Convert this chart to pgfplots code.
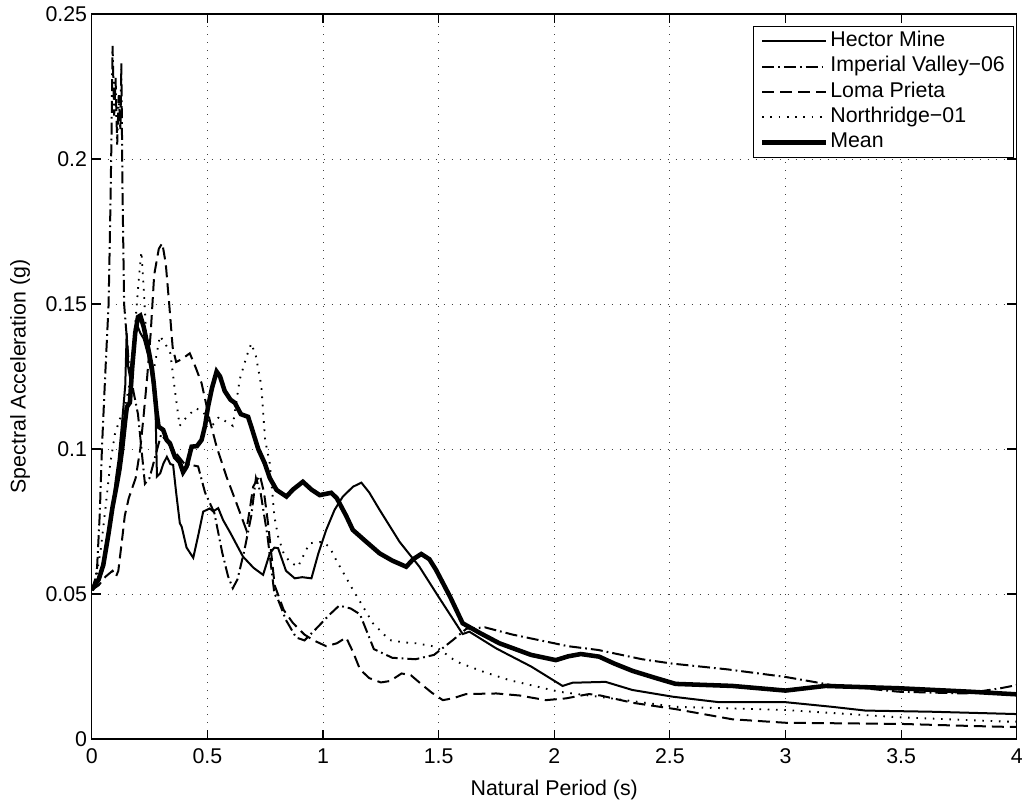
\documentclass[border=0pt]{standalone}
\usepackage{fontspec}
\setmainfont{Liberation Sans}
\usepackage{pgfplots}
\pgfplotsset{compat=1.18}
\begin{document}
\begin{tikzpicture}
\path[use as bounding box] (-68.8pt,-45pt) rectangle (701.45pt,554.25pt);
\begin{axis}[
  scale only axis,
  width=693.75pt, height=543.75pt,
  at={(0pt,0pt)}, anchor=south west,
  xmin=0, xmax=4, ymin=0, ymax=0.25,
  enlargelimits=false,
  xtick={0,0.5,1,1.5,2,2.5,3,3.5,4},
  xticklabels={0,0.5,1,1.5,2,2.5,3,3.5,4},
  ytick={0,0.05,0.1,0.15,0.2,0.25},
  yticklabels={0,0.05,0.1,0.15,0.2,0.25},
  xtick pos=both, ytick pos=both,
  tick align=inside,
  major tick length=7pt,
  tick style={black, line width=0.8pt},
  axis line style={black, line width=1pt},
  grid=major,
  major grid style={black!75, line width=0.7pt, dash pattern=on 0.8pt off 5.2pt},
  tick label style={font=\fontsize{16}{19}\selectfont},
  xticklabel style={yshift=-3.5pt},
  label style={font=\fontsize{16}{19}\selectfont},
  xlabel={Natural Period (s)},
  ylabel={Spectral Acceleration (g)},
  xlabel style={at={(axis description cs:0.5,-0.071)}, anchor=center},
  ylabel style={at={(axis description cs:-0.0775,0.5)}, anchor=center},
  legend style={at={(1,1)}, anchor=north east, xshift=-2pt, yshift=-9pt,
    font=\fontsize{16}{19}\selectfont, draw=black, line width=0.8pt,
    inner xsep=5pt, inner ysep=1.5pt, row sep=0pt,
    nodes={inner sep=1.5pt, text height=12pt, text depth=4pt}},
  legend cell align=left,
  legend image code/.code={\draw[#1] (0pt,0pt) -- (48pt,0pt);},
]
% Hector Mine
\addplot[black, line width=1.5pt] coordinates {
(0,0.0514) (0.02,0.054) (0.04,0.058) (0.06,0.065) (0.075,0.072) (0.09,0.080)
(0.105,0.090) (0.116,0.0962) (0.13,0.108) (0.145,0.122) (0.151,0.1399) (0.158,0.128)
(0.165,0.125) (0.18,0.135) (0.195,0.143) (0.21,0.140) (0.225,0.138) (0.245,0.132)
(0.262,0.124) (0.275,0.117) (0.282,0.0905) (0.296,0.0916) (0.31,0.095) (0.325,0.0973)
(0.34,0.0948) (0.352,0.0945) (0.365,0.085) (0.381,0.0744) (0.389,0.0732) (0.41,0.066)
(0.439,0.0625) (0.46,0.070) (0.482,0.0784) (0.51,0.0795) (0.525,0.0785) (0.547,0.0796)
(0.568,0.0755) (0.6,0.071) (0.654,0.0629) (0.7,0.059) (0.741,0.0566) (0.77,0.064)
(0.79,0.066) (0.806,0.0658) (0.84,0.058) (0.878,0.0554) (0.91,0.0558) (0.95,0.0554)
(0.98,0.064) (1.014,0.0721) (1.05,0.079) (1.086,0.0836) (1.13,0.087) (1.166,0.0884)
(1.2,0.085) (1.245,0.079) (1.317,0.0698) (1.331,0.068) (1.417,0.0594) (1.5,0.049)
(1.604,0.0362) (1.633,0.037) (1.748,0.0313) (1.791,0.0295) (1.9,0.025) (2.036,0.0183)
(2.079,0.0194) (2.222,0.0197) (2.338,0.0169) (2.511,0.0146) (2.712,0.0127) (3.0,0.0127)
(3.201,0.0111) (3.346,0.0098) (3.633,0.0094) (4.0,0.0086)
};
\addlegendentry{Hector Mine}
% Imperial Valley-06
\addplot[black, line width=1.5pt, dash pattern=on 9pt off 3pt on 1.3pt off 3pt] coordinates {
(0,0.0514) (0.015,0.055) (0.023,0.059) (0.035,0.078) (0.044,0.100) (0.058,0.125)
(0.073,0.150) (0.08,0.180) (0.085,0.205) (0.09,0.239) (0.097,0.215) (0.103,0.228)
(0.11,0.205) (0.117,0.222) (0.124,0.210) (0.128,0.233) (0.133,0.190) (0.14,0.150)
(0.15,0.140) (0.16,0.130) (0.18,0.120) (0.2,0.112) (0.215,0.100) (0.23,0.088)
(0.25,0.090) (0.3,0.105) (0.35,0.100) (0.4,0.095) (0.46,0.094) (0.49,0.085)
(0.53,0.078) (0.565,0.064) (0.59,0.056) (0.61,0.052) (0.63,0.055) (0.66,0.065)
(0.69,0.077) (0.71,0.090) (0.73,0.085) (0.76,0.070) (0.79,0.050) (0.806,0.048)
(0.84,0.041) (0.884,0.035) (0.92,0.034) (0.97,0.038) (1.03,0.043) (1.07,0.046)
(1.12,0.045) (1.16,0.043) (1.22,0.031) (1.3,0.028) (1.4,0.0275) (1.48,0.029)
(1.56,0.034) (1.62,0.038) (1.7,0.0385) (1.82,0.036) (1.94,0.034) (2.06,0.032)
(2.19,0.0307) (2.38,0.0275) (2.51,0.026) (2.75,0.024) (3.0,0.0214) (3.2,0.0186)
(3.49,0.0163) (3.78,0.0157) (3.93,0.0175) (4.0,0.0186)
};
\addlegendentry{Imperial Valley−06}
% Loma Prieta
\addplot[black, line width=1.5pt, dash pattern=on 9pt off 4.5pt] coordinates {
(0,0.0514) (0.03,0.053) (0.06,0.056) (0.09,0.058) (0.105,0.056) (0.115,0.058)
(0.121,0.062) (0.133,0.07) (0.143,0.077) (0.16,0.083) (0.19,0.09) (0.21,0.10)
(0.225,0.112) (0.24,0.125) (0.255,0.14) (0.27,0.16) (0.29,0.169) (0.305,0.171)
(0.32,0.164) (0.335,0.15) (0.35,0.135) (0.365,0.13) (0.39,0.131) (0.424,0.133)
(0.45,0.128) (0.475,0.1227) (0.51,0.11) (0.54,0.1008) (0.583,0.0904) (0.626,0.0813)
(0.669,0.072) (0.685,0.08) (0.698,0.087) (0.727,0.091) (0.745,0.085) (0.763,0.074)
(0.791,0.053) (0.83,0.0445) (0.87,0.040) (0.92,0.036) (0.96,0.034) (1.014,0.032)
(1.06,0.033) (1.1,0.035) (1.13,0.030) (1.16,0.024) (1.2,0.021) (1.25,0.0195)
(1.29,0.020) (1.34,0.0226) (1.38,0.022) (1.43,0.0186) (1.47,0.016) (1.518,0.0134)
(1.56,0.014) (1.619,0.0155) (1.75,0.0157) (1.85,0.015) (1.964,0.0134) (2.05,0.014)
(2.15,0.0155) (2.2,0.015) (2.338,0.0125) (2.525,0.0103) (2.77,0.0068) (3.0,0.0056)
(3.5,0.0052) (3.8,0.0045) (3.95,0.0042) (4.0,0.0042)
};
\addlegendentry{Loma Prieta}
% Northridge-01
\addplot[black, line width=1.4pt, dash pattern=on 1.2pt off 5pt] coordinates {
(0,0.0514) (0.02,0.056) (0.04,0.066) (0.06,0.080) (0.08,0.095) (0.1,0.105)
(0.12,0.110) (0.144,0.1146) (0.17,0.125) (0.19,0.145) (0.205,0.16) (0.215,0.168)
(0.225,0.155) (0.235,0.14) (0.25,0.13) (0.27,0.128) (0.295,0.139) (0.32,0.136)
(0.34,0.133) (0.36,0.12) (0.38,0.108) (0.41,0.111) (0.45,0.114) (0.48,0.113)
(0.52,0.108) (0.55,0.111) (0.61,0.108) (0.64,0.124) (0.67,0.132) (0.69,0.1364)
(0.71,0.132) (0.733,0.122) (0.75,0.103) (0.77,0.095) (0.79,0.0766) (0.806,0.0698)
(0.83,0.064) (0.856,0.0611) (0.892,0.0594) (0.92,0.064) (0.942,0.0675) (1.0,0.068)
(1.03,0.066) (1.057,0.0617) (1.13,0.0514) (1.216,0.0399) (1.288,0.0341) (1.35,0.0333)
(1.403,0.033) (1.489,0.0318) (1.576,0.0267) (1.7,0.023) (1.806,0.0203) (2.02,0.0163)
(2.2,0.0145) (2.525,0.0111) (3.0,0.0100) (3.49,0.0075) (3.95,0.0060) (4.0,0.006)
};
\addlegendentry{Northridge−01}
% Mean
\addplot[black, line width=3.4pt] coordinates {
(0,0.0514) (0.03,0.055) (0.05,0.060) (0.073,0.071) (0.09,0.080) (0.109,0.088)
(0.12,0.093) (0.131,0.0997) (0.145,0.110) (0.152,0.1145) (0.165,0.116) (0.175,0.128)
(0.188,0.140) (0.2,0.1455) (0.21,0.146) (0.225,0.142) (0.246,0.134) (0.26,0.128)
(0.268,0.1228) (0.28,0.113) (0.289,0.1077) (0.309,0.1066) (0.325,0.103) (0.338,0.102)
(0.36,0.0972) (0.38,0.0955) (0.395,0.092) (0.41,0.0939) (0.432,0.1008) (0.455,0.101)
(0.475,0.1031) (0.49,0.108) (0.503,0.1146) (0.52,0.121) (0.54,0.1267) (0.555,0.125)
(0.575,0.120) (0.6,0.117) (0.619,0.1159) (0.645,0.112) (0.676,0.1111) (0.69,0.1077)
(0.72,0.100) (0.748,0.0951) (0.77,0.090) (0.799,0.0859) (0.842,0.0836) (0.87,0.086)
(0.913,0.0887) (0.95,0.086) (0.986,0.0841) (1.036,0.0849) (1.06,0.083) (1.1,0.077)
(1.129,0.0721) (1.18,0.0685) (1.245,0.064) (1.3,0.0615) (1.36,0.0594) (1.39,0.062)
(1.425,0.0638) (1.46,0.062) (1.489,0.0583) (1.55,0.049) (1.604,0.0399) (1.68,0.0365)
(1.763,0.033) (1.9,0.029) (2.007,0.0272) (2.06,0.0285) (2.115,0.0293) (2.194,0.0284)
(2.26,0.026) (2.338,0.0235) (2.44,0.021) (2.525,0.019) (2.77,0.0183) (3.0,0.0167)
(3.173,0.0183) (3.49,0.0175) (3.8,0.0163) (4.0,0.0154)
};
\addlegendentry{Mean}
\end{axis}
\end{tikzpicture}
\end{document}
